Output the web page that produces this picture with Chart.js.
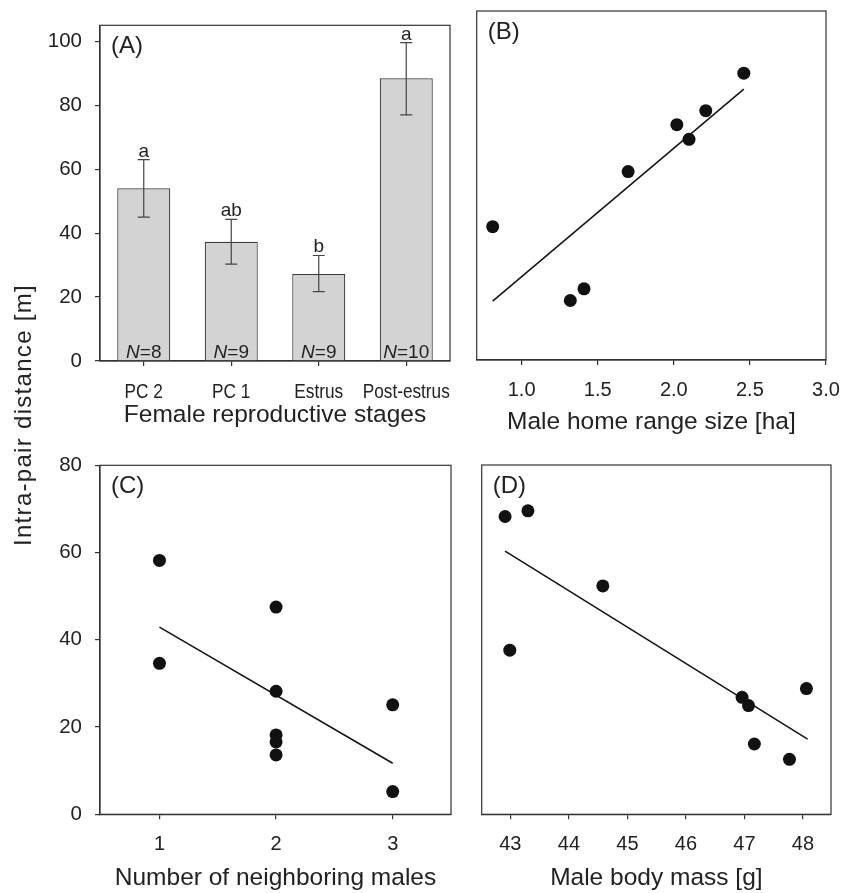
<!DOCTYPE html>
<html>
<head>
<meta charset="utf-8">
<script src="https://cdn.jsdelivr.net/npm/chart.js@4.4.1/dist/chart.umd.min.js"></script>
<style>
    body { margin: 0; background: #fff; }
    #fig { position: relative; width: 854px; height: 893px; background: #fff; }
    #fig canvas { position: absolute; }
    #ytitle {
        position: absolute;
        left: -126px;
        top: 400px;
        width: 300px;
        height: 30px;
        line-height: 30px;
        text-align: center;
        transform: rotate(-90deg);
        font: 24px "Liberation Sans", Arial, sans-serif;
        letter-spacing: 1.3px;
        color: #222;
        white-space: nowrap;
    }
</style>
</head>
<body>
<div id="fig">
    <canvas id="chartA" width="460" height="440" style="left:0;top:0;width:460px;height:440px"></canvas>
    <canvas id="chartB" width="394" height="440" style="left:460px;top:0;width:394px;height:440px"></canvas>
    <canvas id="chartC" width="460" height="453" style="left:0;top:440px;width:460px;height:453px"></canvas>
    <canvas id="chartD" width="394" height="453" style="left:460px;top:440px;width:394px;height:453px"></canvas>
    <div id="ytitle">Intra-pair distance [m]</div>
</div>
<script>
// (A) female reproductive stages
const stages = ["PC 2", "PC 1", "Estrus", "Post-estrus"];
const stageMeans = [54.0, 37.3, 27.2, 88.4];
const stageUpper = [63.0, 44.3, 33.0, 99.6];
const stageLower = [45.0, 30.3, 21.7, 77.0];
const stageLetters = ["a", "ab", "b", "a"];
const stageN = [8, 9, 9, 10];
const distTicksTop = [0, 20, 40, 60, 80, 100];

// (B) male home range size
const homeRange = [0.81, 1.32, 1.41, 1.70, 2.02, 2.10, 2.21, 2.46];
const homeRangeDist = [40.1, 17.9, 21.4, 56.7, 70.8, 66.4, 75.0, 86.3];
const homeRangeFitX = [0.81, 2.46];
const homeRangeFitY = [17.7, 81.5];
const homeRangeTicks = [1.0, 1.5, 2.0, 2.5, 3.0];

// (C) number of neighbouring males
const neighbours = [1, 1, 2, 2, 2, 2, 2, 3, 3];
const neighbourDist = [58.2, 34.6, 47.5, 28.2, 18.2, 16.6, 13.6, 25.1, 5.2];
const neighbourFitX = [1, 3];
const neighbourFitY = [42.9, 11.7];
const neighbourTicks = [1, 2, 3];
const distTicksBottom = [0, 20, 40, 60, 80];

// (D) male body mass
const bodyMass = [42.91, 43.30, 42.99, 44.58, 46.96, 47.07, 47.17, 47.77, 48.06];
const bodyMassDist = [68.2, 69.5, 37.6, 52.3, 26.8, 24.9, 16.1, 12.6, 28.8];
const bodyMassFitX = [42.91, 48.08];
const bodyMassFitY = [60.3, 17.2];
const bodyMassTicks = [43, 44, 45, 46, 47, 48];

const FONT = "'Liberation Sans', Arial, sans-serif";
const INK = "#222";
const LINE = "#333";

Chart.defaults.font.family = FONT;
Chart.defaults.color = INK;
Chart.defaults.animation = false;

function toPoints(xs, ys) {
    return xs.map((x, i) => ({ x, y: ys[i] }));
}

function fixTicks(values) {
    return (scale) => {
        scale.ticks = values.map((v) => ({ value: v }));
    };
}

// box round the plot area plus the panel letter
function framePlugin(letter) {
    return {
        id: "frame",
        afterDraw(chart) {
            const { ctx, chartArea: a } = chart;
            ctx.save();
            ctx.strokeStyle = LINE;
            ctx.lineWidth = 1.2;
            ctx.strokeRect(a.left, a.top, a.right - a.left, a.bottom - a.top);
            ctx.fillStyle = INK;
            ctx.font = "24px " + FONT;
            ctx.textAlign = "left";
            ctx.textBaseline = "middle";
            ctx.fillText(letter, a.left + 11, a.top + 21);
            ctx.restore();
        }
    };
}

function xAxis(opts) {
    const ticks = {
        display: opts.showLabels !== false,
        color: INK,
        padding: opts.tickPad,
        maxRotation: 0,
        autoSkip: false,
        font: { size: 20, family: FONT }
    };
    if (opts.format) ticks.callback = opts.format;

    const axis = {
        type: opts.type || "linear",
        offset: opts.type === "category",
        afterFit: (scale) => { scale.height = opts.height; },
        grid: {
            display: true,
            drawOnChartArea: false,
            drawTicks: true,
            tickLength: 5,
            color: LINE,
            lineWidth: 1.2,
            offset: false
        },
        border: { display: true, color: LINE, width: 1.2 },
        ticks,
        title: {
            display: true,
            text: opts.title,
            color: INK,
            font: { size: 24.5, family: FONT },
            padding: { top: 0, bottom: opts.titlePad }
        }
    };
    if (opts.min !== undefined) axis.min = opts.min;
    if (opts.max !== undefined) axis.max = opts.max;
    if (opts.ticks) axis.afterBuildTicks = fixTicks(opts.ticks);
    return axis;
}

function yAxis(opts) {
    if (!opts.show) {
        return { display: false, min: opts.min, max: opts.max };
    }
    return {
        min: opts.min,
        max: opts.max,
        afterBuildTicks: fixTicks(opts.ticks),
        afterFit: (scale) => { scale.width = opts.width; },
        grid: {
            display: true,
            drawOnChartArea: false,
            drawTicks: true,
            tickLength: 5,
            color: LINE,
            lineWidth: 1.2
        },
        border: { display: true, color: LINE, width: 1.2 },
        ticks: { color: INK, padding: 13, font: { size: 20.5, family: FONT } }
    };
}

const basePlugins = {
    legend: { display: false },
    tooltip: { enabled: false }
};

// error bars, group letters, sample sizes and the narrow stage labels for panel A
const barExtras = {
    id: "barExtras",
    afterDatasetsDraw(chart) {
        const { ctx, scales } = chart;
        const x = scales.x;
        const y = scales.y;
        ctx.save();
        ctx.strokeStyle = "#444";
        ctx.lineWidth = 1.2;
        stages.forEach((s, i) => {
            const cx = x.getPixelForValue(i);
            const top = y.getPixelForValue(stageUpper[i]);
            const bot = y.getPixelForValue(stageLower[i]);
            ctx.beginPath();
            ctx.moveTo(cx, top);
            ctx.lineTo(cx, bot);
            ctx.moveTo(cx - 6, top);
            ctx.lineTo(cx + 6, top);
            ctx.moveTo(cx - 6, bot);
            ctx.lineTo(cx + 6, bot);
            ctx.stroke();

            ctx.fillStyle = INK;
            ctx.textAlign = "center";
            ctx.textBaseline = "alphabetic";
            ctx.font = "19px " + FONT;
            ctx.fillText(stageLetters[i], cx, top - 3);

            const nPart = "N";
            const rest = "=" + stageN[i];
            ctx.font = "italic 19px " + FONT;
            const w1 = ctx.measureText(nPart).width;
            ctx.font = "19px " + FONT;
            const w2 = ctx.measureText(rest).width;
            const start = cx - (w1 + w2) / 2;
            const base = y.getPixelForValue(0) - 3;
            ctx.textAlign = "left";
            ctx.font = "italic 19px " + FONT;
            ctx.fillText(nPart, start, base);
            ctx.font = "19px " + FONT;
            ctx.fillText(rest, start + w1, base);

            // category label, horizontally condensed like the original
            ctx.save();
            ctx.translate(cx, y.getPixelForValue(0) + 37);
            ctx.scale(0.82, 1);
            ctx.textAlign = "center";
            ctx.font = "21px " + FONT;
            ctx.fillText(s, 0, 0);
            ctx.restore();
        });
        ctx.restore();
    }
};

new Chart(document.getElementById("chartA"), {
    type: "bar",
    data: {
        labels: stages,
        datasets: [{
            data: stageMeans,
            backgroundColor: "#d3d3d3",
            borderColor: "#3a3a3a",
            borderWidth: 1.2,
            categoryPercentage: 1,
            barPercentage: 0.606
        }]
    },
    options: {
        responsive: false,
        layout: { padding: { left: 0, top: 12, right: 10, bottom: 0 } },
        scales: {
            x: xAxis({ type: "category", height: 79, tickPad: 14, showLabels: false,
                title: "Female reproductive stages", titlePad: 10 }),
            y: yAxis({ show: true, min: 0, max: 105, ticks: distTicksTop, width: 100 })
        },
        plugins: basePlugins
    },
    plugins: [barExtras, framePlugin("(A)")]
});

function scatterChart(id, letter, xs, ys, fitX, fitY, xOpts, yOpts, pad) {
    return new Chart(document.getElementById(id), {
        type: "scatter",
        data: {
            datasets: [
                {
                    data: toPoints(xs, ys),
                    backgroundColor: "#111",
                    borderWidth: 0,
                    pointRadius: 6.5
                },
                {
                    type: "line",
                    data: toPoints(fitX, fitY),
                    borderColor: "#111",
                    borderWidth: 1.5,
                    pointRadius: 0,
                    fill: false
                }
            ]
        },
        options: {
            responsive: false,
            layout: { padding: pad },
            scales: { x: xAxis(xOpts), y: yAxis(yOpts) },
            plugins: basePlugins
        },
        plugins: [framePlugin(letter)]
    });
}

scatterChart("chartB", "(B)", homeRange, homeRangeDist, homeRangeFitX, homeRangeFitY,
    { min: 0.705, max: 3.0, ticks: homeRangeTicks, height: 80, tickPad: 13,
      format: (v) => Number(v).toFixed(1), title: "Male home range size [ha]", titlePad: 3 },
    { show: false, min: 0, max: 105 },
    { left: 16.7, top: 11, right: 28, bottom: 0 });

scatterChart("chartC", "(C)", neighbours, neighbourDist, neighbourFitX, neighbourFitY,
    { min: 0.49, max: 3.5, ticks: neighbourTicks, height: 78.7, tickPad: 13,
      title: "Number of neighboring males", titlePad: 0 },
    { show: true, min: 0, max: 80, ticks: distTicksBottom, width: 100 },
    { left: 0, top: 25, right: 9, bottom: 0 });

scatterChart("chartD", "(D)", bodyMass, bodyMassDist, bodyMassFitX, bodyMassFitY,
    { min: 42.51, max: 48.48, ticks: bodyMassTicks, height: 78.7, tickPad: 13,
      title: "Male body mass [g]", titlePad: 0 },
    { show: false, min: 0, max: 80 },
    { left: 21.7, top: 25, right: 23, bottom: 0 });
</script>
</body>
</html>
